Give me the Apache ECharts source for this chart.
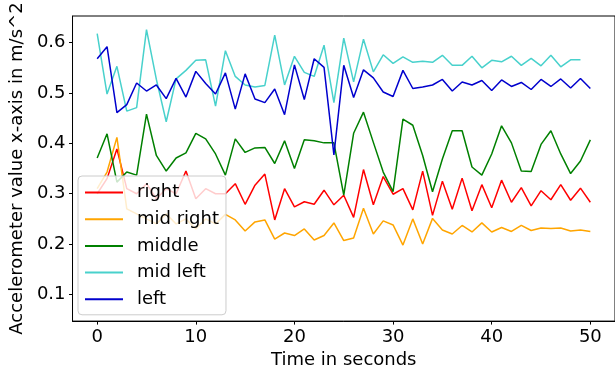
<!DOCTYPE html>
<html>
<head>
<meta charset="utf-8">
<script src="https://cdn.jsdelivr.net/npm/echarts@6/dist/echarts.min.js"></script>
<style>
  html, body { margin: 0; padding: 0; background: #fff; }
  #chart { width: 615px; height: 374px; }
</style>
</head>
<body>
<div id="chart"></div>
<script>
var time = [0, 1, 2, 3, 4, 5, 6, 7, 8, 9, 10, 11, 12, 13, 14, 15, 16, 17, 18, 19, 20,
  21, 22, 23, 24, 25, 26, 27, 28, 29, 30, 31, 32, 33, 34, 35, 36, 37, 38, 39, 40,
  41, 42, 43, 44, 45, 46, 47, 48, 49, 50];

var right = [0.300, 0.330, 0.389, 0.310, 0.300, 0.320, 0.290, 0.310, 0.300, 0.345, 0.290,
  0.310, 0.300, 0.300, 0.320, 0.279, 0.317, 0.339, 0.248, 0.310, 0.274, 0.284, 0.279,
  0.307, 0.278, 0.297, 0.253, 0.348, 0.278, 0.334, 0.299, 0.310, 0.268, 0.345, 0.257,
  0.325, 0.269, 0.331, 0.266, 0.318, 0.272, 0.327, 0.283, 0.312, 0.276, 0.306, 0.288,
  0.318, 0.287, 0.311, 0.283];
var midRight = [0.310, 0.343, 0.412, 0.270, 0.260, 0.250, 0.240, 0.260, 0.240, 0.250, 0.230,
  0.250, 0.240, 0.259, 0.248, 0.226, 0.244, 0.248, 0.210, 0.222, 0.217, 0.230, 0.208,
  0.217, 0.242, 0.207, 0.212, 0.271, 0.220, 0.246, 0.238, 0.198, 0.250, 0.200, 0.251,
  0.228, 0.220, 0.237, 0.224, 0.242, 0.224, 0.233, 0.225, 0.237, 0.227, 0.232, 0.231,
  0.232, 0.226, 0.228, 0.225];
var middle = [0.371, 0.419, 0.323, 0.343, 0.337, 0.458, 0.376, 0.345, 0.371, 0.381, 0.420,
  0.409, 0.379, 0.337, 0.409, 0.382, 0.391, 0.392, 0.360, 0.405, 0.350, 0.407, 0.405,
  0.401, 0.401, 0.297, 0.420, 0.462, 0.402, 0.343, 0.304, 0.448, 0.436, 0.376, 0.304,
  0.369, 0.425, 0.425, 0.353, 0.337, 0.379, 0.435, 0.401, 0.345, 0.344, 0.398, 0.425,
  0.379, 0.340, 0.365, 0.407];
var midLeft = [0.618, 0.498, 0.553, 0.464, 0.471, 0.626, 0.527, 0.443, 0.528, 0.545, 0.565,
  0.566, 0.474, 0.584, 0.533, 0.516, 0.512, 0.515, 0.615, 0.516, 0.573, 0.541, 0.533,
  0.595, 0.481, 0.609, 0.522, 0.607, 0.542, 0.576, 0.559, 0.572, 0.561, 0.563, 0.561,
  0.575, 0.555, 0.555, 0.573, 0.550, 0.565, 0.562, 0.573, 0.555, 0.569, 0.554, 0.575,
  0.552, 0.566, 0.566];
var left = [0.568, 0.592, 0.461, 0.477, 0.520, 0.504, 0.516, 0.489, 0.529, 0.492, 0.543,
  0.519, 0.498, 0.540, 0.468, 0.538, 0.488, 0.481, 0.508, 0.457, 0.556, 0.487, 0.568,
  0.551, 0.377, 0.555, 0.491, 0.546, 0.530, 0.502, 0.493, 0.545, 0.509, 0.512, 0.516,
  0.527, 0.504, 0.522, 0.516, 0.525, 0.505, 0.526, 0.513, 0.521, 0.507, 0.527, 0.513,
  0.528, 0.510, 0.529, 0.509];

var xTicks = [0, 10, 20, 30, 40, 50];
var yTicks = [0.1, 0.2, 0.3, 0.4, 0.5, 0.6];

var names = ['right', 'mid right', 'middle', 'mid left', 'left'];
var values = [right, midRight, middle, midLeft, left];
var colors = ['#ff0000', '#ffa500', '#008000', '#48d1cc', '#0000cd'];

var font = 'DejaVu Sans';

function pairs(vals) {
    return vals.map(function (v, i) { return [time[i], v]; });
}

var series = names.map(function (n, k) {
    return {
        name: n,
        type: 'line',
        data: pairs(values[k]),
        symbol: 'none',
        showSymbol: false,
        animation: false,
        lineStyle: { width: 1.5, color: colors[k] },
        itemStyle: { color: colors[k] }
    };
});

option = {
    animation: false,
    grid: {
        left: 68,
        top: 16,
        width: 551,
        height: 308,
        show: true,
        borderColor: '#000',
        borderWidth: 1
    },
    legend: {
        orient: 'vertical',
        left: 78,
        top: 176,
        data: names,
        icon: 'rect',
        itemWidth: 38,
        itemHeight: 2,
        itemGap: 7.7,
        padding: [7, 7, 6, 7],
        backgroundColor: 'rgba(255,255,255,0.8)',
        borderColor: '#cccccc',
        borderWidth: 1,
        borderRadius: 4,
        textStyle: {
            fontFamily: font,
            fontSize: 18,
            color: '#000',
            lineHeight: 19,
            padding: [0, 0, 0, 9]
        }
    },
    xAxis: {
        type: 'value',
        min: -2.5,
        max: 52.5,
        name: 'Time in seconds',
        nameLocation: 'middle',
        nameGap: 26,
        nameTextStyle: { fontFamily: font, fontSize: 18, color: '#000' },
        axisLine: { show: true, onZero: false, lineStyle: { color: '#000', width: 1 } },
        axisTick: { show: true, length: 3.5, customValues: xTicks, lineStyle: { color: '#000' } },
        axisLabel: { customValues: xTicks, margin: 7, fontFamily: font, fontSize: 18, color: '#000' },
        splitLine: { show: false }
    },
    yAxis: {
        type: 'value',
        min: 0.047,
        max: 0.653,
        name: 'Accelerometer value x-axis in m/s^2',
        nameLocation: 'middle',
        nameGap: 40,
        nameTextStyle: { fontFamily: font, fontSize: 18, color: '#000' },
        axisLine: { show: true, onZero: false, lineStyle: { color: '#000', width: 1 } },
        axisTick: { show: true, length: 3.5, customValues: yTicks, lineStyle: { color: '#000' } },
        axisLabel: {
            customValues: yTicks,
            margin: 7,
            fontFamily: font,
            fontSize: 18,
            color: '#000',
            formatter: function (v) { return v.toFixed(1); }
        },
        splitLine: { show: false }
    },
    series: series
};

var myecharts = echarts.init(document.getElementById('chart'), null, { renderer: 'canvas' });
myecharts.setOption(option);
</script>
</body>
</html>
